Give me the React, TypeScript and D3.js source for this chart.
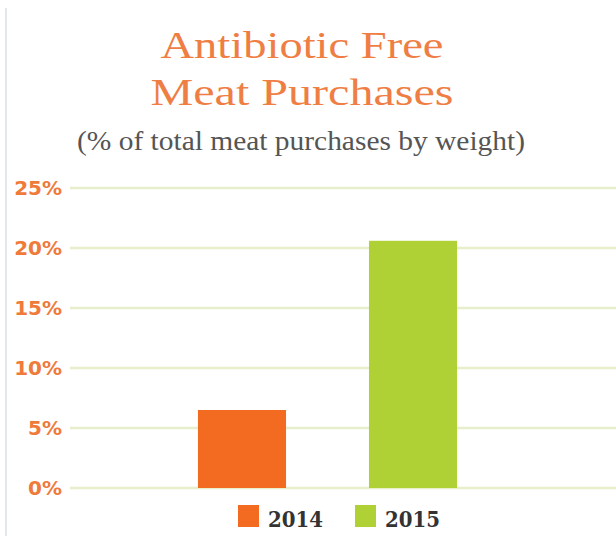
import React, { useRef, useEffect } from "react";
import * as d3 from "d3";

const width = 616;
const height = 536;

const years = ["2014", "2015"];
const shares = [6.5, 20.6];
const yTicks = [0, 5, 10, 15, 20, 25];
const titleLines = ["Antibiotic Free", "Meat Purchases"];
const subtitle = "(% of total meat purchases by weight)";

const color = d3.scaleOrdinal<string>().domain(years).range(["#f26b21", "#afd136"]);

export default function App() {
  const ref = useRef<SVGSVGElement | null>(null);

  useEffect(() => {
    document.body.style.margin = "0";
    const svg = d3.select(ref.current);
    svg.selectAll("*").remove();

    const x = d3.scaleBand().domain(years).range([115, 540]).padding(0.485);
    const y = d3.scaleLinear().domain([0, 25]).range([488, 188]);

    // faint frame edge on the left
    svg
      .append("line")
      .attr("x1", 6)
      .attr("x2", 6)
      .attr("y1", 8)
      .attr("y2", height)
      .attr("stroke", "#e3e8ee")
      .attr("stroke-width", 2);

    // title
    svg
      .selectAll("text.title")
      .data(titleLines)
      .enter()
      .append("text")
      .attr("class", "title")
      .attr("x", 302)
      .attr("y", (d, i) => 58 + i * 47)
      .attr("text-anchor", "middle")
      .attr("font-family", "Liberation Serif, serif")
      .attr("font-size", 37)
      .attr("fill", "#ef7e44")
      .attr("textLength", (d, i) => (i === 0 ? 283 : 303))
      .attr("lengthAdjust", "spacingAndGlyphs")
      .text((d) => d);

    svg
      .append("text")
      .attr("x", 301)
      .attr("y", 150)
      .attr("text-anchor", "middle")
      .attr("font-family", "Liberation Serif, serif")
      .attr("font-size", 27)
      .attr("fill", "#555")
      .attr("textLength", 448)
      .attr("lengthAdjust", "spacingAndGlyphs")
      .text(subtitle);

    // gridlines
    svg
      .selectAll("line.grid")
      .data(yTicks)
      .enter()
      .append("line")
      .attr("class", "grid")
      .attr("x1", 70)
      .attr("x2", width)
      .attr("y1", (d) => y(d))
      .attr("y2", (d) => y(d))
      .attr("stroke", "#e6eecb")
      .attr("stroke-width", 2.5);

    // y labels
    svg
      .selectAll("text.ylab")
      .data(yTicks)
      .enter()
      .append("text")
      .attr("class", "ylab")
      .attr("x", 62)
      .attr("y", (d) => y(d))
      .attr("dy", "0.36em")
      .attr("text-anchor", "end")
      .attr("font-family", "DejaVu Sans")
      .attr("font-weight", "bold")
      .attr("font-size", 20)
      .attr("fill", "#ef7a3a")
      .text((d) => d + "%");

    // bars
    svg
      .selectAll("rect.bar")
      .data(years)
      .enter()
      .append("rect")
      .attr("class", "bar")
      .attr("x", (d) => x(d)!)
      .attr("y", (d, i) => y(shares[i]))
      .attr("width", x.bandwidth())
      .attr("height", (d, i) => y(0) - y(shares[i]))
      .attr("fill", (d) => color(d));

    // legend
    const legend = svg
      .selectAll("g.legend")
      .data(years)
      .enter()
      .append("g")
      .attr("class", "legend")
      .attr("transform", (d, i) => `translate(${238 + i * 117},505)`);

    legend
      .append("rect")
      .attr("width", 21)
      .attr("height", 22)
      .attr("fill", (d) => color(d));

    legend
      .append("text")
      .attr("x", 30)
      .attr("y", 22)
      .attr("font-family", "DejaVu Serif, serif")
      .attr("font-weight", "bold")
      .attr("font-size", 23)
      .attr("fill", "#333")
      .attr("textLength", 55)
      .attr("lengthAdjust", "spacingAndGlyphs")
      .text((d) => d);
  }, []);

  return <svg ref={ref} width={width} height={height} style={{ display: "block", background: "#fff" }} />;
}
